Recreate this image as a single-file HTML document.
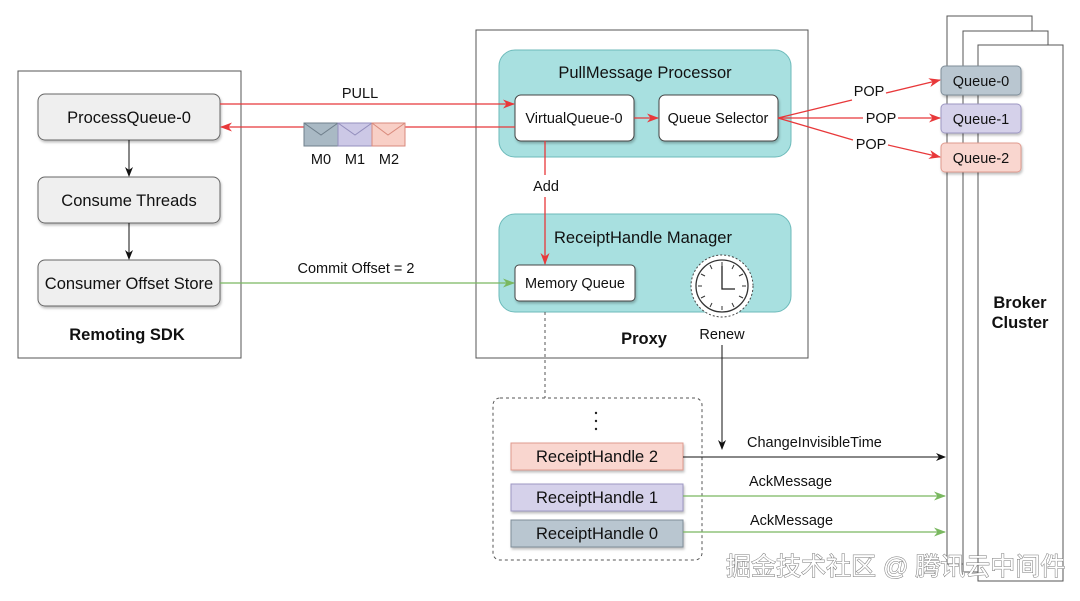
<!DOCTYPE html>
<html><head><meta charset="utf-8"><style>
body{margin:0;background:#fff}
svg text{font-family:"Liberation Sans",Arial,sans-serif;fill:#111}
</style></head><body>
<svg width="1080" height="596" viewBox="0 0 1080 596" xmlns="http://www.w3.org/2000/svg">
<defs>
<marker id="ar" markerWidth="12" markerHeight="12" refX="11" refY="6" orient="auto" markerUnits="userSpaceOnUse"><path d="M0,1.5 L12,6 L0,10.5 L3.5,6z" fill="#e8383a"/></marker>
<marker id="ag" markerWidth="12" markerHeight="12" refX="11" refY="6" orient="auto" markerUnits="userSpaceOnUse"><path d="M0,1.5 L12,6 L0,10.5 L3.5,6z" fill="#7ab860"/></marker>
<marker id="ak" markerWidth="10" markerHeight="10" refX="9" refY="5" orient="auto" markerUnits="userSpaceOnUse"><path d="M0,1 L10,5 L0,9 L3,5z" fill="#111"/></marker>
<filter id="sh" x="-10%" y="-10%" width="130%" height="140%"><feDropShadow dx="1" dy="2" stdDeviation="1.2" flood-color="#000" flood-opacity="0.25"/></filter>
</defs>

<!-- Broker cluster -->
<rect x="947" y="16" width="85" height="548" fill="#fff" stroke="#555"/>
<rect x="963" y="31" width="85" height="541" fill="#fff" stroke="#555"/>
<rect x="978" y="45" width="85" height="536" fill="#fff" stroke="#555"/>
<text x="1020" y="308" font-size="16.5" font-weight="bold" text-anchor="middle">Broker</text>
<text x="1020" y="328" font-size="16.5" font-weight="bold" text-anchor="middle">Cluster</text>
<rect x="941" y="66" width="80" height="29" rx="4" fill="#b9c6d0" stroke="#7e8d99" filter="url(#sh)"/>
<text x="981" y="86" font-size="14.5" text-anchor="middle">Queue-0</text>
<rect x="941" y="104" width="80" height="29" rx="4" fill="#d5d1ea" stroke="#9d97c2" filter="url(#sh)"/>
<text x="981" y="124" font-size="14.5" text-anchor="middle">Queue-1</text>
<rect x="941" y="143" width="80" height="29" rx="4" fill="#f9d6cf" stroke="#e09a8e" filter="url(#sh)"/>
<text x="981" y="163" font-size="14.5" text-anchor="middle">Queue-2</text>

<!-- Remoting SDK -->
<rect x="18" y="71" width="223" height="287" fill="#fff" stroke="#555"/>
<rect x="38" y="94" width="182" height="46" rx="7" fill="#efefef" stroke="#666" filter="url(#sh)"/>
<text x="129" y="123" font-size="16.5" text-anchor="middle">ProcessQueue-0</text>
<rect x="38" y="177" width="182" height="46" rx="7" fill="#efefef" stroke="#666" filter="url(#sh)"/>
<text x="129" y="206" font-size="16.5" text-anchor="middle">Consume Threads</text>
<rect x="38" y="260" width="182" height="46" rx="7" fill="#efefef" stroke="#666" filter="url(#sh)"/>
<text x="129" y="289" font-size="16.5" text-anchor="middle">Consumer Offset Store</text>
<line x1="129" y1="140" x2="129" y2="176" stroke="#111" marker-end="url(#ak)"/>
<line x1="129" y1="223" x2="129" y2="259" stroke="#111" marker-end="url(#ak)"/>
<text x="127" y="340" font-size="16.5" font-weight="bold" text-anchor="middle">Remoting SDK</text>

<!-- Proxy -->
<rect x="476" y="30" width="332" height="328" fill="#fff" stroke="#555"/>
<rect x="499" y="50" width="292" height="107" rx="16" fill="#a8e0e0" stroke="#6cbaba"/>
<text x="645" y="78" font-size="16.5" text-anchor="middle">PullMessage Processor</text>
<rect x="515" y="95" width="119" height="46" rx="6" fill="#fff" stroke="#444" filter="url(#sh)"/>
<text x="574" y="123" font-size="14.5" text-anchor="middle">VirtualQueue-0</text>
<rect x="659" y="95" width="119" height="46" rx="6" fill="#fff" stroke="#444" filter="url(#sh)"/>
<text x="718" y="123" font-size="14.5" text-anchor="middle">Queue Selector</text>
<line x1="634" y1="118" x2="658" y2="118" stroke="#e8383a" stroke-width="1.3" marker-end="url(#ar)"/>

<rect x="499" y="214" width="292" height="98" rx="16" fill="#a8e0e0" stroke="#6cbaba"/>
<text x="643" y="243" font-size="16.5" text-anchor="middle">ReceiptHandle Manager</text>
<rect x="515" y="265" width="120" height="36" rx="4" fill="#fff" stroke="#444" filter="url(#sh)"/>
<text x="575" y="288" font-size="14.5" text-anchor="middle">Memory Queue</text>
<circle cx="722" cy="286" r="31" fill="#fff" stroke="#444" stroke-dasharray="2,2"/>
<circle cx="722" cy="286" r="26" fill="#fff" stroke="#333" stroke-width="1.3"/>
<g stroke="#333" stroke-width="1">
<line x1="722" y1="262" x2="722" y2="266"/><line x1="722" y1="306" x2="722" y2="310"/>
<line x1="698" y1="286" x2="702" y2="286"/><line x1="742" y1="286" x2="746" y2="286"/>
<line x1="734" y1="265" x2="732" y2="269"/><line x1="743" y1="274" x2="739" y2="276"/>
<line x1="743" y1="298" x2="739" y2="296"/><line x1="734" y1="307" x2="732" y2="303"/>
<line x1="710" y1="265" x2="712" y2="269"/><line x1="701" y1="274" x2="705" y2="276"/>
<line x1="701" y1="298" x2="705" y2="296"/><line x1="710" y1="307" x2="712" y2="303"/>
</g>
<polyline points="722,266 722,289 735,289" fill="none" stroke="#222" stroke-width="1.3"/>
<text x="644" y="344" font-size="16.5" font-weight="bold" text-anchor="middle">Proxy</text>
<text x="722" y="339" font-size="14.5" text-anchor="middle">Renew</text>

<!-- PULL / return -->
<line x1="220" y1="104" x2="514" y2="104" stroke="#e8383a" stroke-width="1.3" marker-end="url(#ar)"/>
<text x="360" y="98" font-size="14.5" text-anchor="middle">PULL</text>
<line x1="515" y1="127" x2="221" y2="127" stroke="#e8383a" stroke-width="1.3" marker-end="url(#ar)"/>
<g stroke-width="1">
<rect x="304" y="123" width="34" height="23" fill="#a9b9c4" stroke="#6f7f8b"/>
<polyline points="304,123 321,135 338,123" fill="none" stroke="#6f7f8b"/>
<rect x="338" y="123" width="34" height="23" fill="#ccc8e6" stroke="#948fbd"/>
<polyline points="338,123 355,135 372,123" fill="none" stroke="#948fbd"/>
<rect x="372" y="123" width="33" height="23" fill="#f8cfc6" stroke="#d98a7c"/>
<polyline points="372,123 388,135 405,123" fill="none" stroke="#d98a7c"/>
</g>
<text x="321" y="164" font-size="14.5" text-anchor="middle">M0</text>
<text x="355" y="164" font-size="14.5" text-anchor="middle">M1</text>
<text x="389" y="164" font-size="14.5" text-anchor="middle">M2</text>

<!-- Commit offset -->
<line x1="220" y1="283" x2="514" y2="283" stroke="#7ab860" stroke-width="1.3" marker-end="url(#ag)"/>
<text x="356" y="273" font-size="14.5" text-anchor="middle">Commit Offset = 2</text>

<!-- Add -->
<line x1="545" y1="141" x2="545" y2="175" stroke="#e8383a" stroke-width="1.3"/>
<line x1="545" y1="197" x2="545" y2="264" stroke="#e8383a" stroke-width="1.3" marker-end="url(#ar)"/>
<text x="546" y="191" font-size="14.5" text-anchor="middle">Add</text>

<!-- POP -->
<line x1="778" y1="118" x2="852" y2="100" stroke="#e8383a" stroke-width="1.3"/>
<line x1="886" y1="93" x2="940" y2="80" stroke="#e8383a" stroke-width="1.3" marker-end="url(#ar)"/>
<text x="869" y="96" font-size="14.5" text-anchor="middle">POP</text>
<line x1="778" y1="118" x2="863" y2="118" stroke="#e8383a" stroke-width="1.3"/>
<line x1="898" y1="118" x2="940" y2="118" stroke="#e8383a" stroke-width="1.3" marker-end="url(#ar)"/>
<text x="881" y="123" font-size="14.5" text-anchor="middle">POP</text>
<line x1="778" y1="118" x2="853" y2="140" stroke="#e8383a" stroke-width="1.3"/>
<line x1="888" y1="145" x2="940" y2="157" stroke="#e8383a" stroke-width="1.3" marker-end="url(#ar)"/>
<text x="871" y="149" font-size="14.5" text-anchor="middle">POP</text>

<!-- dotted box -->
<line x1="545" y1="312" x2="545" y2="398" stroke="#555" stroke-dasharray="3,3"/>
<rect x="493" y="398" width="209" height="162" rx="7" fill="none" stroke="#555" stroke-dasharray="3,3"/>
<circle cx="596" cy="413" r="1.2" fill="#222"/><circle cx="596" cy="421" r="1.2" fill="#222"/><circle cx="596" cy="429" r="1.2" fill="#222"/>
<rect x="511" y="443" width="172" height="27" fill="#f9d6cf" stroke="#e09a8e" filter="url(#sh)"/>
<text x="597" y="462" font-size="16.5" text-anchor="middle">ReceiptHandle 2</text>
<rect x="511" y="484" width="172" height="27" fill="#d5d1ea" stroke="#9d97c2" filter="url(#sh)"/>
<text x="597" y="503" font-size="16.5" text-anchor="middle">ReceiptHandle 1</text>
<rect x="511" y="520" width="172" height="27" fill="#b9c6d0" stroke="#7e8d99" filter="url(#sh)"/>
<text x="597" y="539" font-size="16.5" text-anchor="middle">ReceiptHandle 0</text>

<line x1="722" y1="345" x2="722" y2="449" stroke="#111" marker-end="url(#ak)"/>
<line x1="683" y1="457" x2="945" y2="457" stroke="#111" marker-end="url(#ak)"/>
<text x="747" y="447" font-size="14.5">ChangeInvisibleTime</text>
<line x1="683" y1="496" x2="945" y2="496" stroke="#7ab860" stroke-width="1.3" marker-end="url(#ag)"/>
<text x="749" y="486" font-size="14.5">AckMessage</text>
<line x1="683" y1="532" x2="945" y2="532" stroke="#7ab860" stroke-width="1.3" marker-end="url(#ag)"/>
<text x="750" y="525" font-size="14.5">AckMessage</text>

<text x="726" y="575" font-size="25" style="font-family:'Liberation Sans','Noto Sans CJK SC',sans-serif;fill:#fff;stroke:#777;stroke-width:1;paint-order:stroke" >掘金技术社区 @ 腾讯云中间件</text>
</svg>
</body></html>
